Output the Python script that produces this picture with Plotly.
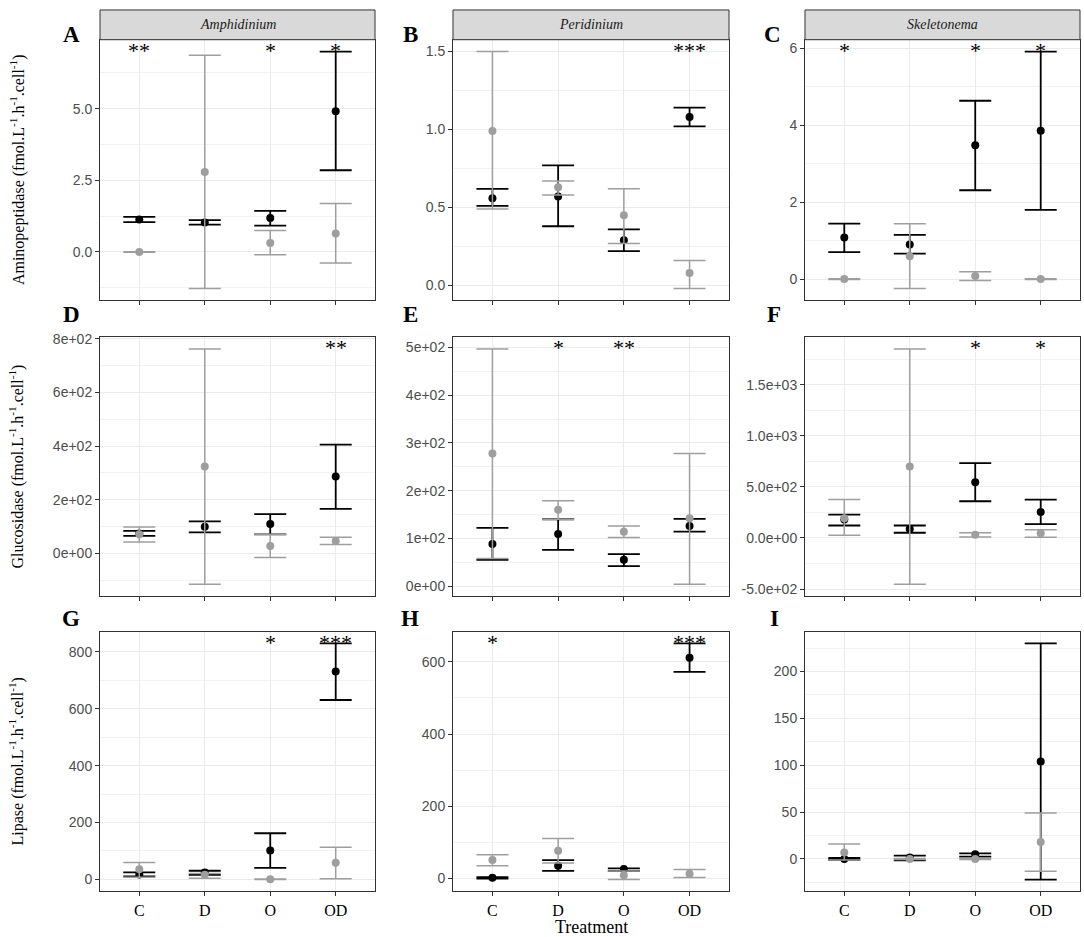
import plotly.graph_objects as go

W, H = 1084, 937

treatments = ["C", "D", "O", "OD"]
genera = ["Amphidinium", "Peridinium", "Skeletonema"]

# Aminopeptidase -- black = dark series, grey = light series
amph_amino_dark = [1.13, 1.03, 1.18, 4.91]
amph_amino_dark_lo = [1.04, 0.95, 0.92, 2.85]
amph_amino_dark_hi = [1.22, 1.11, 1.43, 6.99]
amph_amino_light = [0.0, 2.79, 0.31, 0.64]
amph_amino_light_lo = [-0.01, -1.28, -0.10, -0.39]
amph_amino_light_hi = [0.01, 6.86, 0.75, 1.69]
amph_amino_stars = ["**", "", "*", "*"]

peri_amino_dark = [0.56, 0.57, 0.29, 1.08]
peri_amino_dark_lo = [0.51, 0.38, 0.22, 1.02]
peri_amino_dark_hi = [0.62, 0.77, 0.36, 1.14]
peri_amino_light = [0.99, 0.63, 0.45, 0.08]
peri_amino_light_lo = [0.49, 0.58, 0.27, -0.02]
peri_amino_light_hi = [1.50, 0.67, 0.62, 0.16]
peri_amino_stars = ["", "", "", "***"]

skel_amino_dark = [1.08, 0.90, 3.48, 3.86]
skel_amino_dark_lo = [0.70, 0.66, 2.31, 1.80]
skel_amino_dark_hi = [1.44, 1.15, 4.64, 5.92]
skel_amino_light = [0.0, 0.59, 0.08, 0.0]
skel_amino_light_lo = [-0.01, -0.25, -0.04, -0.01]
skel_amino_light_hi = [0.01, 1.44, 0.19, 0.01]
skel_amino_stars = ["*", "", "*", "*"]

# Glucosidase
amph_gluc_dark = [74, 99, 109, 286]
amph_gluc_dark_lo = [65, 78, 71, 166]
amph_gluc_dark_hi = [84, 119, 146, 405]
amph_gluc_light = [71, 324, 27, 46]
amph_gluc_light_lo = [42, -115, -16, 33]
amph_gluc_light_hi = [98, 762, 71, 60]
amph_gluc_stars = ["", "", "", "**"]

peri_gluc_dark = [88, 109, 55, 126]
peri_gluc_dark_lo = [55, 76, 42, 114]
peri_gluc_dark_hi = [122, 140, 67, 141]
peri_gluc_light = [278, 160, 114, 142]
peri_gluc_light_lo = [58, 140, 102, 4]
peri_gluc_light_hi = [497, 179, 126, 278]
peri_gluc_stars = ["", "*", "**", ""]

skel_gluc_dark = [180, 87, 545, 253]
skel_gluc_dark_lo = [122, 51, 359, 135]
skel_gluc_dark_hi = [228, 122, 731, 375]
skel_gluc_light = [192, 699, 32, 45]
skel_gluc_light_lo = [26, -452, 10, 7]
skel_gluc_light_hi = [375, 1849, 51, 80]
skel_gluc_stars = ["", "", "*", "*"]

# Lipase
amph_lip_dark = [17, 24, 101, 731]
amph_lip_dark_lo = [10, 16, 40, 631]
amph_lip_dark_hi = [24, 30, 162, 830]
amph_lip_light = [35, 16, 0, 58]
amph_lip_light_lo = [7, 4, -1, 2]
amph_lip_light_hi = [59, 20, 1, 113]
amph_lip_stars = ["", "", "*", "***"]

peri_lip_dark = [2, 35, 26, 611]
peri_lip_dark_lo = [0, 21, 21, 572]
peri_lip_dark_hi = [4, 51, 28, 651]
peri_lip_light = [51, 77, 9, 13]
peri_lip_light_lo = [35, 43, -3, 3]
peri_lip_light_hi = [66, 111, 21, 25]
peri_lip_stars = ["*", "", "", "***"]

skel_lip_dark = [0, 1.5, 5, 104]
skel_lip_dark_lo = [-1, -1.5, 2.5, -22]
skel_lip_dark_hi = [1, 3.5, 6, 230]
skel_lip_light = [7, 0, 0, 18]
skel_lip_light_lo = [-1, -0.5, -0.5, -13]
skel_lip_light_hi = [16, 0.5, 0.5, 49]
skel_lip_stars = ["", "", "", ""]

# y tick values / labels per panel
amph_amino_ticks = [0, 2.5, 5]
amph_amino_labels = ["0.0", "2.5", "5.0"]
peri_amino_ticks = [0, 0.5, 1, 1.5]
peri_amino_labels = ["0.0", "0.5", "1.0", "1.5"]
skel_amino_ticks = [0, 2, 4, 6]
skel_amino_labels = ["0", "2", "4", "6"]
amph_gluc_ticks = [0, 200, 400, 600, 800]
amph_gluc_labels = ["0e+00", "2e+02", "4e+02", "6e+02", "8e+02"]
peri_gluc_ticks = [0, 100, 200, 300, 400, 500]
peri_gluc_labels = ["0e+00", "1e+02", "2e+02", "3e+02", "4e+02", "5e+02"]
skel_gluc_ticks = [-500, 0, 500, 1000, 1500]
skel_gluc_labels = ["-5.0e+02", "0.0e+00", "5.0e+02", "1.0e+03", "1.5e+03"]
amph_lip_ticks = [0, 200, 400, 600, 800]
amph_lip_labels = ["0", "200", "400", "600", "800"]
peri_lip_ticks = [0, 200, 400, 600]
peri_lip_labels = ["0", "200", "400", "600"]
skel_lip_ticks = [0, 50, 100, 150, 200]
skel_lip_labels = ["0", "50", "100", "150", "200"]

y_titles = ["Aminopeptidase", "Glucosidase", "Lipase"]
panel_letters = ["A", "B", "C", "D", "E", "F", "G", "H", "I"]

panels = [
    (amph_amino_dark, amph_amino_dark_lo, amph_amino_dark_hi, amph_amino_light, amph_amino_light_lo, amph_amino_light_hi, amph_amino_stars, amph_amino_ticks, amph_amino_labels),
    (peri_amino_dark, peri_amino_dark_lo, peri_amino_dark_hi, peri_amino_light, peri_amino_light_lo, peri_amino_light_hi, peri_amino_stars, peri_amino_ticks, peri_amino_labels),
    (skel_amino_dark, skel_amino_dark_lo, skel_amino_dark_hi, skel_amino_light, skel_amino_light_lo, skel_amino_light_hi, skel_amino_stars, skel_amino_ticks, skel_amino_labels),
    (amph_gluc_dark, amph_gluc_dark_lo, amph_gluc_dark_hi, amph_gluc_light, amph_gluc_light_lo, amph_gluc_light_hi, amph_gluc_stars, amph_gluc_ticks, amph_gluc_labels),
    (peri_gluc_dark, peri_gluc_dark_lo, peri_gluc_dark_hi, peri_gluc_light, peri_gluc_light_lo, peri_gluc_light_hi, peri_gluc_stars, peri_gluc_ticks, peri_gluc_labels),
    (skel_gluc_dark, skel_gluc_dark_lo, skel_gluc_dark_hi, skel_gluc_light, skel_gluc_light_lo, skel_gluc_light_hi, skel_gluc_stars, skel_gluc_ticks, skel_gluc_labels),
    (amph_lip_dark, amph_lip_dark_lo, amph_lip_dark_hi, amph_lip_light, amph_lip_light_lo, amph_lip_light_hi, amph_lip_stars, amph_lip_ticks, amph_lip_labels),
    (peri_lip_dark, peri_lip_dark_lo, peri_lip_dark_hi, peri_lip_light, peri_lip_light_lo, peri_lip_light_hi, peri_lip_stars, peri_lip_ticks, peri_lip_labels),
    (skel_lip_dark, skel_lip_dark_lo, skel_lip_dark_hi, skel_lip_light, skel_lip_light_lo, skel_lip_light_hi, skel_lip_stars, skel_lip_ticks, skel_lip_labels),
]

# panel boxes in pixels (left, right) and (top, bottom)
col_px = [(100, 375), (453, 729), (805, 1080)]
row_px = [(33, 296), (333, 594), (630, 892)]
letter_pos = [(71, 28), (410, 28), (773, 28), (71, 310), (410, 310), (774, 310), (71, 617), (410, 617), (774, 617)]

SERIF = "Liberation Serif, Times New Roman, serif"
SANS = "Liberation Sans, Arial, sans-serif"
DARK = "#000000"
LIGHT = "#9E9E9E"


def px_x(p):
    return p / W


def px_y(p):
    return 1 - p / H


def label(x, y, text, font, angle=0):
    # centred text placed by pixel position
    return dict(x=px_x(x), y=px_y(y), xref="paper", yref="paper", text=text,
                showarrow=False, xanchor="center", yanchor="middle",
                textangle=angle, font=font)


def error_trace(mean, lo, hi, color, lw, ax):
    return go.Scatter(
        x=treatments, y=mean, mode="markers",
        marker=dict(color=color, size=8),
        error_y=dict(type="data", symmetric=False,
                     array=[h - m for h, m in zip(hi, mean)],
                     arrayminus=[m - l for m, l in zip(mean, lo)],
                     color=color, thickness=lw, width=16),
        xaxis="x" + ax, yaxis="y" + ax, showlegend=False, hoverinfo="skip")


fig = go.Figure()
layout = dict(width=W, height=H, margin=dict(l=0, r=0, t=0, b=0),
              plot_bgcolor="white", paper_bgcolor="white", showlegend=False)
shapes = []
annotations = []

for i, p in enumerate(panels):
    dark, dark_lo, dark_hi, light, light_lo, light_hi, stars, ticks, labels = p
    row, col = i // 3, i % 3
    ax = "" if i == 0 else str(i + 1)

    fig.add_trace(error_trace(dark, dark_lo, dark_hi, DARK, 1.8, ax))
    fig.add_trace(error_trace(light, light_lo, light_hi, LIGHT, 1.5, ax))

    # ggplot style 5% expansion around the data
    ymin = min(dark_lo + light_lo)
    ymax = max(dark_hi + light_hi)
    pad = (ymax - ymin) * 0.05

    # significance stars sit at the panel's highest bar end
    for t, s in zip(treatments, stars):
        if s:
            annotations.append(dict(x=t, y=ymax, xref="x" + ax, yref="y" + ax,
                                    text=s, showarrow=False, xanchor="center",
                                    yanchor="middle", yshift=1,
                                    font=dict(family=SERIF, size=22, color="black")))

    x0, x1 = col_px[col]
    y0, y1 = row_px[row]
    step = ticks[1] - ticks[0]

    layout["xaxis" + ax] = dict(
        domain=[px_x(x0), px_x(x1)], anchor="y" + ax,
        type="category", categoryorder="array", categoryarray=treatments,
        range=[-0.6, 3.6], showgrid=True, gridcolor="#EBEBEB", gridwidth=1,
        showline=True, mirror=True, linecolor="#333333", linewidth=1,
        ticks="outside", ticklen=4, tickcolor="#333333",
        showticklabels=(row == 2),
        tickfont=dict(family=SERIF, size=16, color="black"),
        zeroline=False, fixedrange=True)
    layout["yaxis" + ax] = dict(
        domain=[px_y(y1), px_y(y0)], anchor="x" + ax,
        range=[ymin - pad, ymax + pad],
        tickmode="array", tickvals=ticks, ticktext=labels,
        showgrid=True, gridcolor="#EBEBEB", gridwidth=1,
        minor=dict(showgrid=True, gridcolor="#F2F2F2", gridwidth=0.8,
                   tick0=ticks[0] - step / 2, dtick=step),
        showline=True, mirror=True, linecolor="#333333", linewidth=1,
        ticks="outside", ticklen=4, tickcolor="#333333",
        tickfont=dict(family=SANS, size=14, color="#4D4D4D"),
        zeroline=False, fixedrange=True)

    lx, ly = letter_pos[i]
    annotations.append(label(lx, ly, "<b>" + panel_letters[i] + "</b>",
                             dict(family=SERIF, size=23, color="black")))

# facet strips on the top row
for col, name in enumerate(genera):
    x0, x1 = col_px[col]
    shapes.append(dict(type="rect", xref="paper", yref="paper",
                       x0=px_x(x0), x1=px_x(x1), y0=px_y(33), y1=px_y(3),
                       fillcolor="#D9D9D9", line=dict(color="#333333", width=1)))
    annotations.append(label((x0 + x1) / 2, 18, "<i>" + name + "</i>",
                             dict(family=SERIF, size=14, color="#1A1A1A")))

# y axis titles, one per row
unit = " (fmol.L<sup>-1</sup>.h<sup>-1</sup>.cell<sup>-1</sup>)"
for row, name in enumerate(y_titles):
    y0, y1 = row_px[row]
    annotations.append(label(17, (y0 + y1) / 2, name + unit,
                             dict(family=SERIF, size=16, color="black"), angle=-90))

annotations.append(label(591, 928, "Treatment", dict(family=SERIF, size=18, color="black")))

layout["shapes"] = shapes
layout["annotations"] = annotations
fig.update_layout(**layout)

# drop the default page margin so the figure sits at the window's corner
fig.write_html("out.html", config={"displayModeBar": False},
               post_script="document.body.style.margin='0';document.body.style.overflow='hidden';")
